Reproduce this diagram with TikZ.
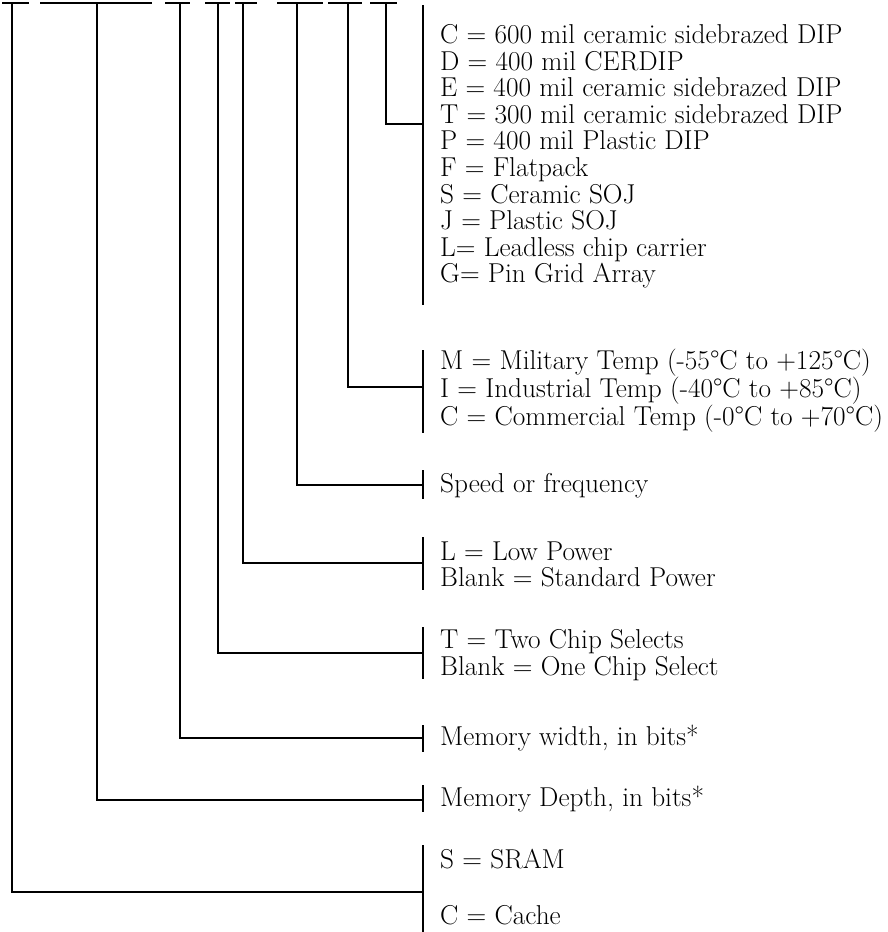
\documentclass[tikz,border=0pt]{standalone}
\usepackage{fontspec}
\usetikzlibrary{positioning,calc}

\tikzset{
  rule/.style={line width=1.9pt},
  legend/.style={anchor=west, align=left, inner sep=0pt,
    font=\fontsize{27.3}{26.6}\selectfont},
}

\begin{document}
\begin{tikzpicture}[x=1pt,y=-1pt]
  \useasboundingbox (0,0) rectangle (888,932);

  % Fields of the part number along the top
  \coordinate (f-type)  at (12,3);
  \coordinate (f-depth) at (97,3);
  \coordinate (f-width) at (180,3);
  \coordinate (f-cs)    at (218,3);
  \coordinate (f-power) at (243,3);
  \coordinate (f-speed) at (297,3);
  \coordinate (f-temp)  at (348,3);
  \coordinate (f-pkg)   at (386,3);
  \draw[rule] (2,3) -- (29,3);
  \draw[rule] (40,3) -- (152,3);
  \draw[rule] (165,3) -- (190,3);
  \draw[rule] (205,3) -- (230,3);
  \draw[rule] (235,3) -- (257,3);
  \draw[rule] (277,3) -- (323,3);
  \draw[rule] (328,3) -- (362,3);
  \draw[rule] (370,3) -- (397,3);

  % Legends
  \node[legend] (pkg) at (440,156.5) {C = 600 mil ceramic sidebrazed DIP\\
    D = 400 mil CERDIP\\
    E = 400 mil ceramic sidebrazed DIP\\
    T = 300 mil ceramic sidebrazed DIP\\
    P = 400 mil Plastic DIP\\
    F = Flatpack\\
    S = Ceramic SOJ\\
    J = Plastic SOJ\\
    L= Leadless chip carrier\\
    G= Pin Grid Array};
  \node[legend] (temp) at (440,390.5) {M = Military Temp (-55°C to +125°C)\\
    I = Industrial Temp (-40°C to +85°C)\\
    C = Commercial Temp (-0°C to +70°C)};
  \node[legend] (speed) at (440,486) {Speed or frequency};
  \node[legend] (power) at (440,564.5) {L = Low Power\\ Blank = Standard Power};
  \node[legend] (cs) at (440,655) {T = Two Chip Selects\\ Blank = One Chip Select};
  \node[legend] (width) at (440,738) {Memory width, in bits*};
  \node[legend] (depth) at (440,799) {Memory Depth, in bits*};
  \node[legend] (sram) at (440,859) {S = SRAM};
  \node[legend] (cache) at (440,915) {C = Cache};

  % Brackets beside the legends
  \coordinate (pkg-j)   at (423,124);
  \coordinate (temp-j)  at (423,387);
  \coordinate (speed-j) at (423,485);
  \coordinate (power-j) at (423,563);
  \coordinate (cs-j)    at (423,653);
  \coordinate (width-j) at (423,738);
  \coordinate (depth-j) at (423,800);
  \coordinate (type-j)  at (423,892);
  \draw[rule] (423,5) -- (423,305);
  \draw[rule] (423,350) -- (423,433);
  \draw[rule] (423,470) -- (423,499);
  \draw[rule] (423,537) -- (423,590);
  \draw[rule] (423,627) -- (423,679);
  \draw[rule] (423,725) -- (423,752);
  \draw[rule] (423,785) -- (423,812);
  \draw[rule] (423,845) -- (423,932);

  % Leaders from each field to its bracket
  \draw[rule] (f-pkg) |- (pkg-j);
  \draw[rule] (f-temp) |- (temp-j);
  \draw[rule] (f-speed) |- (speed-j);
  \draw[rule] (f-power) |- (power-j);
  \draw[rule] (f-cs) |- (cs-j);
  \draw[rule] (f-width) |- (width-j);
  \draw[rule] (f-depth) |- (depth-j);
  \draw[rule] (f-type) |- (type-j);
\end{tikzpicture}
\end{document}
